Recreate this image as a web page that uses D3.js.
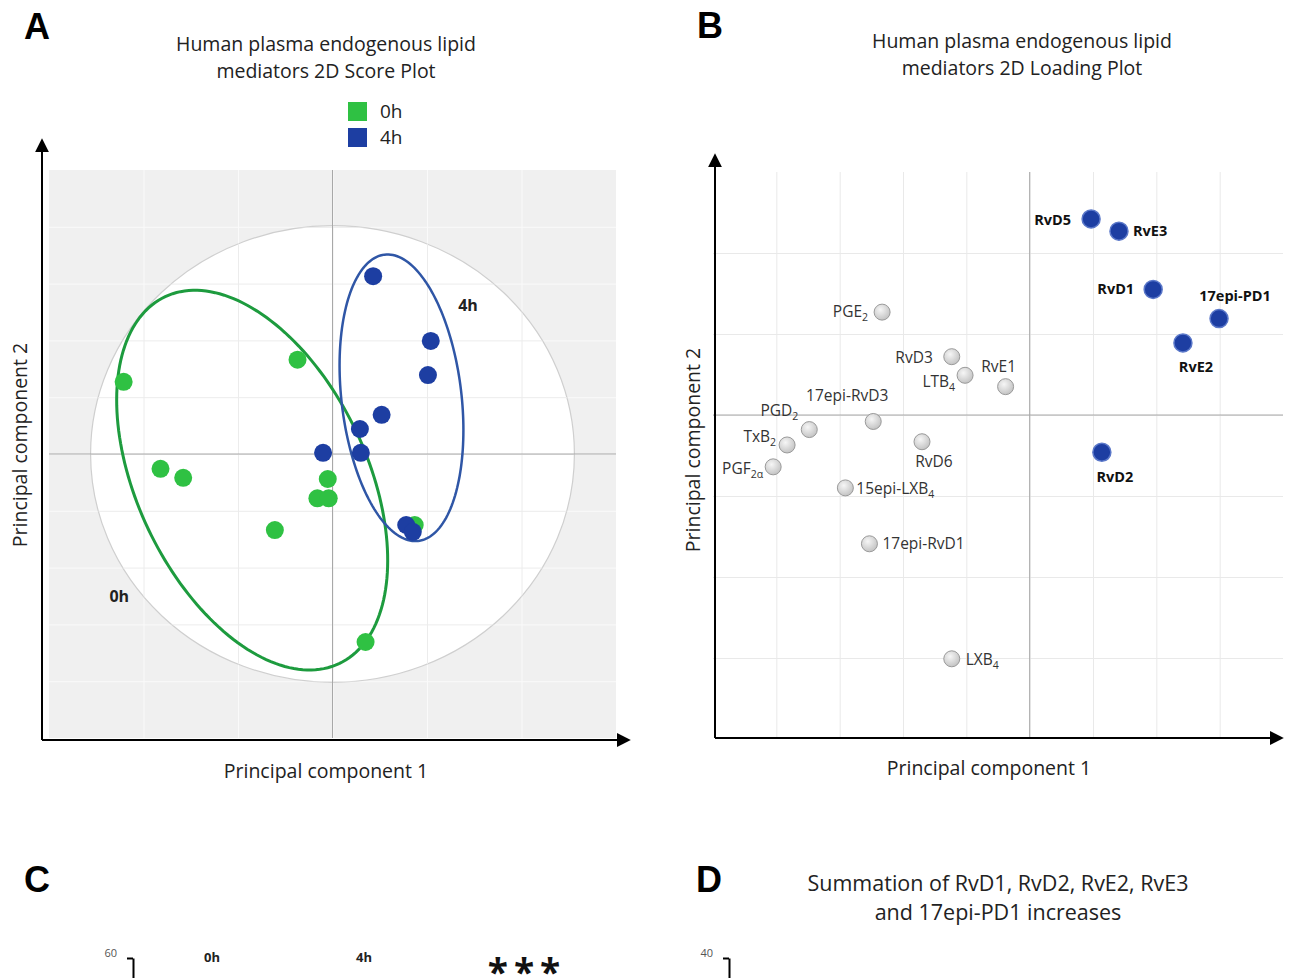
<!DOCTYPE html>
<html>
<head>
<meta charset="utf-8">
<script src="https://cdn.jsdelivr.net/npm/d3@7"></script>
<style>
  body { margin: 0; background: #fff; }
  text { font-family: "Open Sans", "Noto Sans", sans-serif; }
  .panel-letter { font-family: "Liberation Sans", Arial, sans-serif; font-weight: bold; font-size: 36px; }
</style>
</head>
<body>
<svg id="chart" width="1289" height="978"></svg>
<script>
// ---- A: score plot (0h green, 4h blue) ----
var scoreGroups = ['0h', '4h'];
var score0hX = [-2.21, -0.37, -1.82, -1.58, -0.05, -0.16, -0.04, -0.61, 0.35, 0.87];
var score0hY = [1.27, 1.66, -0.26, -0.42, -0.44, -0.78, -0.78, -1.34, -3.31, -1.25];
var score4hX = [0.43, 1.04, 1.01, 0.52, 0.29, -0.10, 0.30, 0.78, 0.85];
var score4hY = [3.13, 1.99, 1.39, 0.69, 0.44, 0.02, 0.02, -1.25, -1.37];
// confidence ellipses: centre, semi-axis vectors (data units)
var ellipseCx = [-0.85, 0.73];
var ellipseCy = [-0.46, 0.99];
var ellipseMajor = [[0.92, -3.23], [0.18, -2.52]];
var ellipseMinor = [[-1.10, -0.86], [-0.63, -0.13]];
var t2Radius = [2.56, 4.02];

// ---- B: loading plot ----
var loadingNames = ['RvD5', 'RvE3', 'RvD1', '17epi-PD1', 'RvE2', 'RvD2',
    'PGE_2', 'RvD3', 'LTB_4', 'RvE1', '17epi-RvD3', 'PGD_2', 'TxB_2', 'PGF_2α',
    'RvD6', '15epi-LXB_4', '17epi-RvD1', 'LXB_4'];
var loadingX = [0.97, 1.41, 1.95, 2.99, 2.42, 1.14,
    -2.33, -1.23, -1.02, -0.38, -2.47, -3.48, -3.83, -4.05,
    -1.70, -2.91, -2.53, -1.23];
var loadingY = [2.42, 2.27, 1.55, 1.19, 0.89, -0.46,
    1.27, 0.72, 0.49, 0.35, -0.08, -0.18, -0.37, -0.64,
    -0.33, -0.90, -1.59, -3.01];
var loadingUp = [1, 1, 1, 1, 1, 1, 0, 0, 0, 0, 0, 0, 0, 0, 0, 0, 0, 0];

// ---- C / D (cut at the bottom of the picture) ----
var cTicks = [0, 20, 40, 60];
var cColumns = ['0h', '4h'];
var dTicks = [0, 10, 20, 30, 40];

var W = 1289, H = 978;
var svg = d3.select('#chart');
svg.append('rect').attr('width', W).attr('height', H).attr('fill', '#fff');

var defs = svg.append('defs');
defs.append('marker').attr('id', 'arrow')
    .attr('viewBox', '0 0 10 10').attr('refX', 8).attr('refY', 5)
    .attr('markerWidth', 7).attr('markerHeight', 7)
    .attr('orient', 'auto')
    .append('path').attr('d', 'M0,0L10,5L0,10z').attr('fill', '#000');

var grad = defs.append('radialGradient').attr('id', 'greyDot')
    .attr('cx', '40%').attr('cy', '35%').attr('r', '65%');
grad.append('stop').attr('offset', '0%').attr('stop-color', '#f6f6f6');
grad.append('stop').attr('offset', '100%').attr('stop-color', '#c4c4c4');

function letter(txt, x, y) {
    svg.append('text').attr('class', 'panel-letter').attr('x', x).attr('y', y).text(txt);
}

function arrowAxes(g, x0, y0, xEnd, yEnd) {
    g.append('line').attr('x1', x0).attr('y1', y0).attr('x2', x0).attr('y2', yEnd)
        .attr('stroke', '#000').attr('stroke-width', 2).attr('marker-end', 'url(#arrow)');
    g.append('line').attr('x1', x0).attr('y1', y0).attr('x2', xEnd).attr('y2', y0)
        .attr('stroke', '#000').attr('stroke-width', 2).attr('marker-end', 'url(#arrow)');
}

function gridLines(g, x, y, xVals, yVals, color) {
    var h = y.range()[0] - y.range()[1],
        w = x.range()[1] - x.range()[0];
    g.append('g').attr('transform', 'translate(0,' + y.range()[0] + ')')
        .call(d3.axisBottom(x).tickValues(xVals).tickSize(-h).tickFormat(''))
        .call(function(s) { s.select('.domain').remove(); })
        .selectAll('line').attr('stroke', color);
    g.append('g').attr('transform', 'translate(' + x.range()[0] + ',0)')
        .call(d3.axisLeft(y).tickValues(yVals).tickSize(-w).tickFormat(''))
        .call(function(s) { s.select('.domain').remove(); })
        .selectAll('line').attr('stroke', color);
}

function title(g, cx, lines, y0, size, gap) {
    g.selectAll(null).data(lines).enter().append('text')
        .attr('x', cx).attr('y', function(d, i) { return y0 + i * gap; })
        .attr('text-anchor', 'middle').attr('font-size', size).attr('fill', '#222')
        .text(function(d) { return d; });
}

function subText(sel, name) {
    var parts = name.split('_');
    sel.append('tspan').text(parts[0]);
    if (parts.length > 1) {
        sel.append('tspan').attr('dy', 4).attr('font-size', '0.68em').text(parts[1]);
    }
}

function cutAxis(g, x0, scale, ticks) {
    // only the top of these axes is inside the picture
    g.append('g').attr('transform', 'translate(' + x0 + ',0)')
        .call(d3.axisLeft(scale).tickValues(ticks.filter(function(t) { return scale(t) < H - 10; }))
            .tickSize(6).tickPadding(10).tickSizeOuter(0))
        .call(function(s) {
            s.select('.domain').attr('stroke', '#000').attr('stroke-width', 2);
            s.selectAll('line').attr('stroke', '#000').attr('stroke-width', 2);
            s.selectAll('text').attr('font-size', 11).attr('fill', '#555').attr('dy', '-0.15em')
                .attr('font-family', '"Open Sans", sans-serif');
        });
}

// ================= A =================
var xA = d3.scaleLinear().domain([-3, 3]).range([49, 616]);
var yA = d3.scaleLinear().domain([-5, 5]).range([738, 170]);
var gA = svg.append('g');

letter('A', 24, 39);
title(gA, 326, ['Human plasma endogenous lipid', 'mediators 2D Score Plot'], 51, 19.5, 27);

gA.append('rect').attr('x', xA(-3)).attr('y', yA(5))
    .attr('width', xA(3) - xA(-3)).attr('height', yA(-5) - yA(5)).attr('fill', '#f0f0f0');
gridLines(gA, xA, yA, d3.range(-2, 3), d3.range(-4, 5), '#fafafa');

defs.append('clipPath').attr('id', 't2clip').append('ellipse')
    .attr('cx', xA(0)).attr('cy', yA(0))
    .attr('rx', xA(t2Radius[0]) - xA(0)).attr('ry', yA(0) - yA(t2Radius[1]));
gA.append('ellipse')
    .attr('cx', xA(0)).attr('cy', yA(0))
    .attr('rx', xA(t2Radius[0]) - xA(0)).attr('ry', yA(0) - yA(t2Radius[1]))
    .attr('fill', '#fff').attr('stroke', '#cfcfcf').attr('stroke-width', 1.2);
gridLines(gA.append('g').attr('clip-path', 'url(#t2clip)'), xA, yA, d3.range(-2, 3), d3.range(-4, 5), '#ececec');

gA.append('line').attr('x1', xA(0)).attr('x2', xA(0)).attr('y1', yA(5)).attr('y2', yA(-5))
    .attr('stroke', '#a8a8a8');
gA.append('line').attr('x1', xA(-3)).attr('x2', xA(3)).attr('y1', yA(0)).attr('y2', yA(0))
    .attr('stroke', '#a8a8a8');

arrowAxes(gA, 42, 740, 628, 141);

var groupColor = { '0h': '#2fc143', '4h': '#1d3ea2' };
var ellipseColor = { '0h': '#1d9b3e', '4h': '#2f56a6' };

scoreGroups.forEach(function(grp, gi) {
    var pts = d3.range(0, 2 * Math.PI + 0.01, Math.PI / 90).map(function(t) {
        return [ellipseCx[gi] + Math.cos(t) * ellipseMajor[gi][0] + Math.sin(t) * ellipseMinor[gi][0],
                ellipseCy[gi] + Math.cos(t) * ellipseMajor[gi][1] + Math.sin(t) * ellipseMinor[gi][1]];
    });
    gA.append('path')
        .attr('d', d3.line().x(function(d) { return xA(d[0]); }).y(function(d) { return yA(d[1]); })(pts))
        .attr('fill', 'none').attr('stroke', ellipseColor[grp]).attr('stroke-width', gi === 0 ? 3 : 2.5);
});

var scoreData = [
    { grp: '0h', xs: score0hX, ys: score0hY },
    { grp: '4h', xs: score4hX, ys: score4hY }
];
scoreData.forEach(function(s) {
    gA.append('g').selectAll('circle').data(s.xs).enter().append('circle')
        .attr('cx', function(d) { return xA(d); })
        .attr('cy', function(d, i) { return yA(s.ys[i]); })
        .attr('r', 9).attr('fill', groupColor[s.grp]);
});

gA.append('text').attr('x', xA(1.33)).attr('y', yA(2.52)).attr('font-size', 16)
    .attr('font-weight', 'bold').attr('fill', '#222').text('4h');
gA.append('text').attr('x', xA(-2.36)).attr('y', yA(-2.6)).attr('font-size', 16)
    .attr('font-weight', 'bold').attr('fill', '#222').text('0h');

var legA = gA.append('g').selectAll('g').data(scoreGroups).enter().append('g')
    .attr('transform', function(d, i) { return 'translate(348,' + (102 + i * 26) + ')'; });
legA.append('rect').attr('width', 19).attr('height', 19)
    .attr('fill', function(d) { return groupColor[d]; });
legA.append('text').attr('x', 32).attr('y', 16).attr('font-size', 19).attr('fill', '#222')
    .text(function(d) { return d; });

gA.append('text').attr('x', 326).attr('y', 778).attr('text-anchor', 'middle')
    .attr('font-size', 19.5).attr('fill', '#222').text('Principal component 1');
gA.append('text').attr('transform', 'translate(27,445) rotate(-90)').attr('text-anchor', 'middle')
    .attr('font-size', 19.5).attr('fill', '#222').text('Principal component 2');

// ================= B =================
var xB = d3.scaleLinear().domain([-5, 4]).range([713, 1283]);
var yB = d3.scaleLinear().domain([-4, 3]).range([739, 172]);
var gB = svg.append('g');

letter('B', 697, 38);
title(gB, 1022, ['Human plasma endogenous lipid', 'mediators 2D Loading Plot'], 48, 19.5, 27);

gridLines(gB, xB, yB, d3.range(-4, 4), d3.range(-3, 3), '#e9e9e9');
gB.append('line').attr('x1', xB(0)).attr('x2', xB(0)).attr('y1', yB(3)).attr('y2', yB(-4))
    .attr('stroke', '#a8a8a8');
gB.append('line').attr('x1', xB(-5)).attr('x2', xB(4)).attr('y1', yB(0)).attr('y2', yB(0))
    .attr('stroke', '#a8a8a8');

arrowAxes(gB, 715, 738, 1281, 156);

// label placement: anchor, dx, dy
var labelPlace = {
    'RvD5': ['end', -20, 6], 'RvE3': ['start', 14, 5], 'RvD1': ['end', -19, 5],
    '17epi-PD1': ['middle', 16, -18], 'RvE2': ['middle', 13, 29], 'RvD2': ['middle', 13, 30],
    'PGE_2': ['end', -14, 5], 'RvD3': ['end', -19, 6], 'LTB_4': ['end', -10, 12],
    'RvE1': ['middle', -7, -15], '17epi-RvD3': ['middle', -26, -20], 'PGD_2': ['end', -11, -14],
    'TxB_2': ['end', -11, -3], 'PGF_2α': ['end', -10, 7], 'RvD6': ['middle', 12, 25],
    '15epi-LXB_4': ['start', 11, 6], '17epi-RvD1': ['start', 13, 5], 'LXB_4': ['start', 14, 6]
};

var dotB = gB.append('g').selectAll('g').data(loadingNames).enter().append('g')
    .attr('transform', function(d, i) { return 'translate(' + xB(loadingX[i]) + ',' + yB(loadingY[i]) + ')'; });
dotB.append('circle')
    .attr('r', function(d, i) { return loadingUp[i] ? 9 : 8; })
    .attr('fill', function(d, i) { return loadingUp[i] ? '#1d3ea2' : 'url(#greyDot)'; })
    .attr('stroke', function(d, i) { return loadingUp[i] ? '#5b78c9' : '#9a9a9a'; })
    .attr('stroke-width', function(d, i) { return loadingUp[i] ? 1.5 : 1; });
dotB.append('text')
    .attr('text-anchor', function(d) { return labelPlace[d][0]; })
    .attr('x', function(d) { return labelPlace[d][1]; })
    .attr('y', function(d) { return labelPlace[d][2]; })
    .attr('font-size', function(d, i) { return loadingUp[i] ? 14.5 : 15.5; })
    .attr('font-weight', function(d, i) { return loadingUp[i] ? 'bold' : 'normal'; })
    .attr('fill', function(d, i) { return loadingUp[i] ? '#111' : '#333'; })
    .each(function(d) { subText(d3.select(this), d); });

gB.append('text').attr('x', 989).attr('y', 775).attr('text-anchor', 'middle')
    .attr('font-size', 19.5).attr('fill', '#222').text('Principal component 1');
gB.append('text').attr('transform', 'translate(700,450) rotate(-90)').attr('text-anchor', 'middle')
    .attr('font-size', 19.5).attr('fill', '#222').text('Principal component 2');

// ================= C =================
var gC = svg.append('g');
letter('C', 24, 892);
var yC = d3.scaleLinear().domain([0, 60]).range([1260, 958]);
cutAxis(gC, 133, yC, cTicks);
var xC = d3.scalePoint().domain(cColumns).range([212, 364]);
gC.selectAll('.col').data(cColumns).enter().append('text')
    .attr('x', function(d) { return xC(d); }).attr('y', 962)
    .attr('text-anchor', 'middle').attr('font-size', 13).attr('font-weight', 'bold').attr('fill', '#222')
    .text(function(d) { return d; });
gC.append('text').attr('x', 527).attr('y', 986).attr('text-anchor', 'middle')
    .attr('font-size', 37).attr('font-family', '"Liberation Sans", Arial, sans-serif')
    .attr('font-weight', 'bold').attr('letter-spacing', 6).attr('fill', '#111').text('***');

// ================= D =================
var gD = svg.append('g');
letter('D', 696, 892);
title(gD, 998, ['Summation of RvD1, RvD2, RvE2, RvE3', 'and 17epi-PD1 increases'], 891, 21.5, 29);
var yD = d3.scaleLinear().domain([0, 40]).range([1260, 958]);
cutAxis(gD, 729, yD, dTicks);
</script>
</body>
</html>
